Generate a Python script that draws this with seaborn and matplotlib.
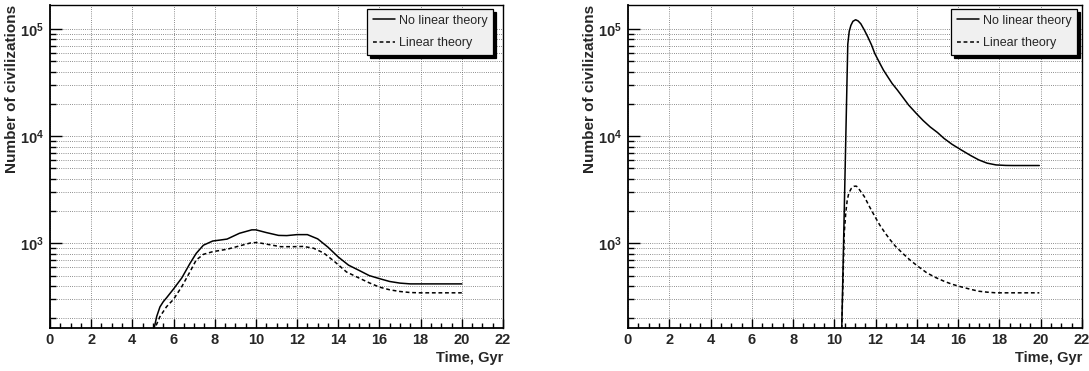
import matplotlib
matplotlib.use("Agg")
import matplotlib.pyplot as plt
from matplotlib.ticker import MultipleLocator, LogLocator, FuncFormatter, NullFormatter
import numpy as np
import seaborn as sns

# Number of civilizations vs. time, two scenarios (left / right panels)
left_time_nolin = [5.0, 5.06, 5.18, 5.34, 5.5, 5.66, 6.0, 6.4, 6.8, 7.1, 7.45, 7.9, 8.3, 8.6,
                   9.2, 9.8, 10.0, 10.5, 11.1, 11.5, 12.0, 12.5, 13.0, 13.5, 14.0, 14.5,
                   15.0, 15.5, 16.0, 16.5, 17.0, 17.5, 18.0, 19.0, 20.0]
left_count_nolin = [130, 162, 207, 255, 285, 310, 375, 475, 650, 805, 960, 1050, 1075, 1095,
                    1240, 1335, 1335, 1260, 1185, 1180, 1205, 1205, 1100, 920, 745, 625,
                    560, 500, 468, 440, 425, 418, 418, 418, 418]

left_time_lin = [5.05, 5.1, 5.34, 5.66, 6.0, 6.4, 6.8, 7.1, 7.45, 7.9, 8.6, 9.2, 9.8, 10.1,
                 10.6, 11.2, 11.8, 12.3, 12.8, 13.3, 13.8, 14.4, 15.0, 15.5, 16.0, 16.5,
                 17.0, 17.5, 18.0, 19.0, 20.0]
left_count_lin = [130, 162, 207, 256, 300, 394, 543, 698, 789, 835, 880, 945, 1015, 1015,
                  975, 930, 930, 935, 900, 810, 680, 540, 475, 428, 390, 368,
                  355, 347, 345, 345, 345]

right_time_nolin = [10.33, 10.36, 10.5, 10.65, 10.72, 10.8, 10.9, 11.03, 11.15, 11.28, 11.45,
                    11.62, 11.8, 11.96, 12.2, 12.38, 12.6, 12.8, 13.05, 13.3, 13.6, 13.97,
                    14.3, 14.64, 15.0, 15.31, 15.7, 16.15, 16.6, 17.0, 17.4, 17.83, 18.3,
                    18.67, 19.93]
right_count_nolin = [120, 166, 3100, 72000, 95000, 108000, 118000, 122000, 119000, 112000, 98000,
                     84400, 71000, 59000, 48000, 41300, 35500, 31000, 27000, 23300, 19500, 16300,
                     14000, 12200, 10800, 9540, 8400, 7430, 6600, 6000, 5600, 5390, 5330,
                     5320, 5320]

right_time_lin = [10.33, 10.36, 10.48, 10.55, 10.62, 10.7, 10.82, 10.95, 11.05, 11.12, 11.3,
                  11.45, 11.7, 11.96, 12.2, 12.46, 12.7, 12.96, 13.3, 13.64, 14.0, 14.48,
                  14.9, 15.31, 15.7, 16.15, 16.6, 17.0, 17.4, 17.83, 19.93]
right_count_lin = [120, 166, 1250, 1900, 2500, 2940, 3250, 3400, 3420, 3360, 3000,
                   2734, 2200, 1783, 1480, 1248, 1080, 938, 810, 705, 620, 530,
                   480, 443, 415, 392, 372, 357, 350, 345, 345]

label_nolin = "No linear theory"
label_lin = "Linear theory"
x_title = "Time, Gyr"
y_title = "Number of civilizations"

sns.set_style("ticks")
plt.rcParams["font.family"] = ["Liberation Sans", "DejaVu Sans"]
plt.rcParams["mathtext.fontset"] = "custom"
plt.rcParams["mathtext.rm"] = "Liberation Sans:bold"
plt.rcParams["mathtext.bf"] = "Liberation Sans:bold"
plt.rcParams["mathtext.it"] = "Liberation Sans:bold"


def decade_label(value, pos):
    exp = int(round(np.log10(value)))
    return r"$\mathbf{10}^{\mathbf{%d}}$" % exp


fig = plt.figure(figsize=(10.89, 3.71), dpi=100)
fig.patch.set_facecolor("white")

panel_rects = [
    [50 / 1089, 43 / 371, 453 / 1089, 323 / 371],
    [628 / 1089, 43 / 371, 454 / 1089, 323 / 371],
]
panels = [
    (left_time_nolin, left_count_nolin, left_time_lin, left_count_lin, (0.978, 0.988)),
    (right_time_nolin, right_count_nolin, right_time_lin, right_count_lin, (0.989, 0.988)),
]

dash = (0, (2.5, 1.8))

for rect, (tx1, cy1, tx2, cy2, leg_anchor) in zip(panel_rects, panels):
    ax = fig.add_axes(rect)
    ax.set_facecolor("white")

    sns.lineplot(x=tx1, y=cy1, ax=ax, color="black", linewidth=1.1, label=label_nolin,
                 zorder=3)
    sns.lineplot(x=tx2, y=cy2, ax=ax, color="black", linewidth=1.1, linestyle=dash,
                 label=label_lin, zorder=3)

    ax.set_yscale("log")
    ax.set_xlim(0, 22)
    ax.set_ylim(162, 1.675e5)

    ax.xaxis.set_major_locator(MultipleLocator(2))
    ax.xaxis.set_minor_locator(MultipleLocator(0.5))
    ax.yaxis.set_major_locator(LogLocator(base=10))
    ax.yaxis.set_minor_locator(LogLocator(base=10, subs=range(2, 10)))
    ax.yaxis.set_major_formatter(FuncFormatter(decade_label))
    ax.yaxis.set_minor_formatter(NullFormatter())

    ax.tick_params(axis="both", which="both", direction="in", top=False, right=False,
                   color="black", width=1.0)
    ax.tick_params(axis="x", which="major", length=6.5, pad=3.5, labelsize=10.5)
    ax.tick_params(axis="x", which="minor", length=3.5)
    ax.tick_params(axis="y", which="major", length=8.5, pad=4.5, labelsize=10.5)
    ax.tick_params(axis="y", which="minor", length=4.5)
    for lab in ax.get_xticklabels():
        lab.set_fontweight("bold")

    grid_kw = dict(color="#6a6a6a", linewidth=0.6, linestyle=(0, (1, 1.6)), zorder=1)
    ax.grid(True, axis="x", which="major", **grid_kw)
    ax.grid(True, axis="y", which="both", **grid_kw)
    ax.set_axisbelow(True)

    for side in ("left", "bottom"):
        ax.spines[side].set_linewidth(1.3)
    for side in ("top", "right"):
        ax.spines[side].set_linewidth(1.0)
        ax.spines[side].set_visible(True)
    for sp in ax.spines.values():
        sp.set_color("black")

    ax.set_xlabel(x_title, loc="right", fontweight="bold", fontsize=10.5, labelpad=3)
    ax.set_ylabel(y_title, loc="top", fontweight="bold", fontsize=11)
    ax.yaxis.set_label_coords(-0.069, 1.0)

    leg = ax.legend(loc="upper right", bbox_to_anchor=leg_anchor, frameon=True,
                    fancybox=False, shadow={"color": "black", "alpha": 1.0},
                    edgecolor="black", facecolor="#f0f0f0", framealpha=1.0,
                    fontsize=9, handlelength=1.8, handletextpad=0.3, labelspacing=0.85,
                    borderpad=0.45, borderaxespad=0.0)
    leg.get_frame().set_linewidth(0.9)
    leg.set_zorder(5)

fig.savefig("out.png", dpi=100, facecolor="white")
